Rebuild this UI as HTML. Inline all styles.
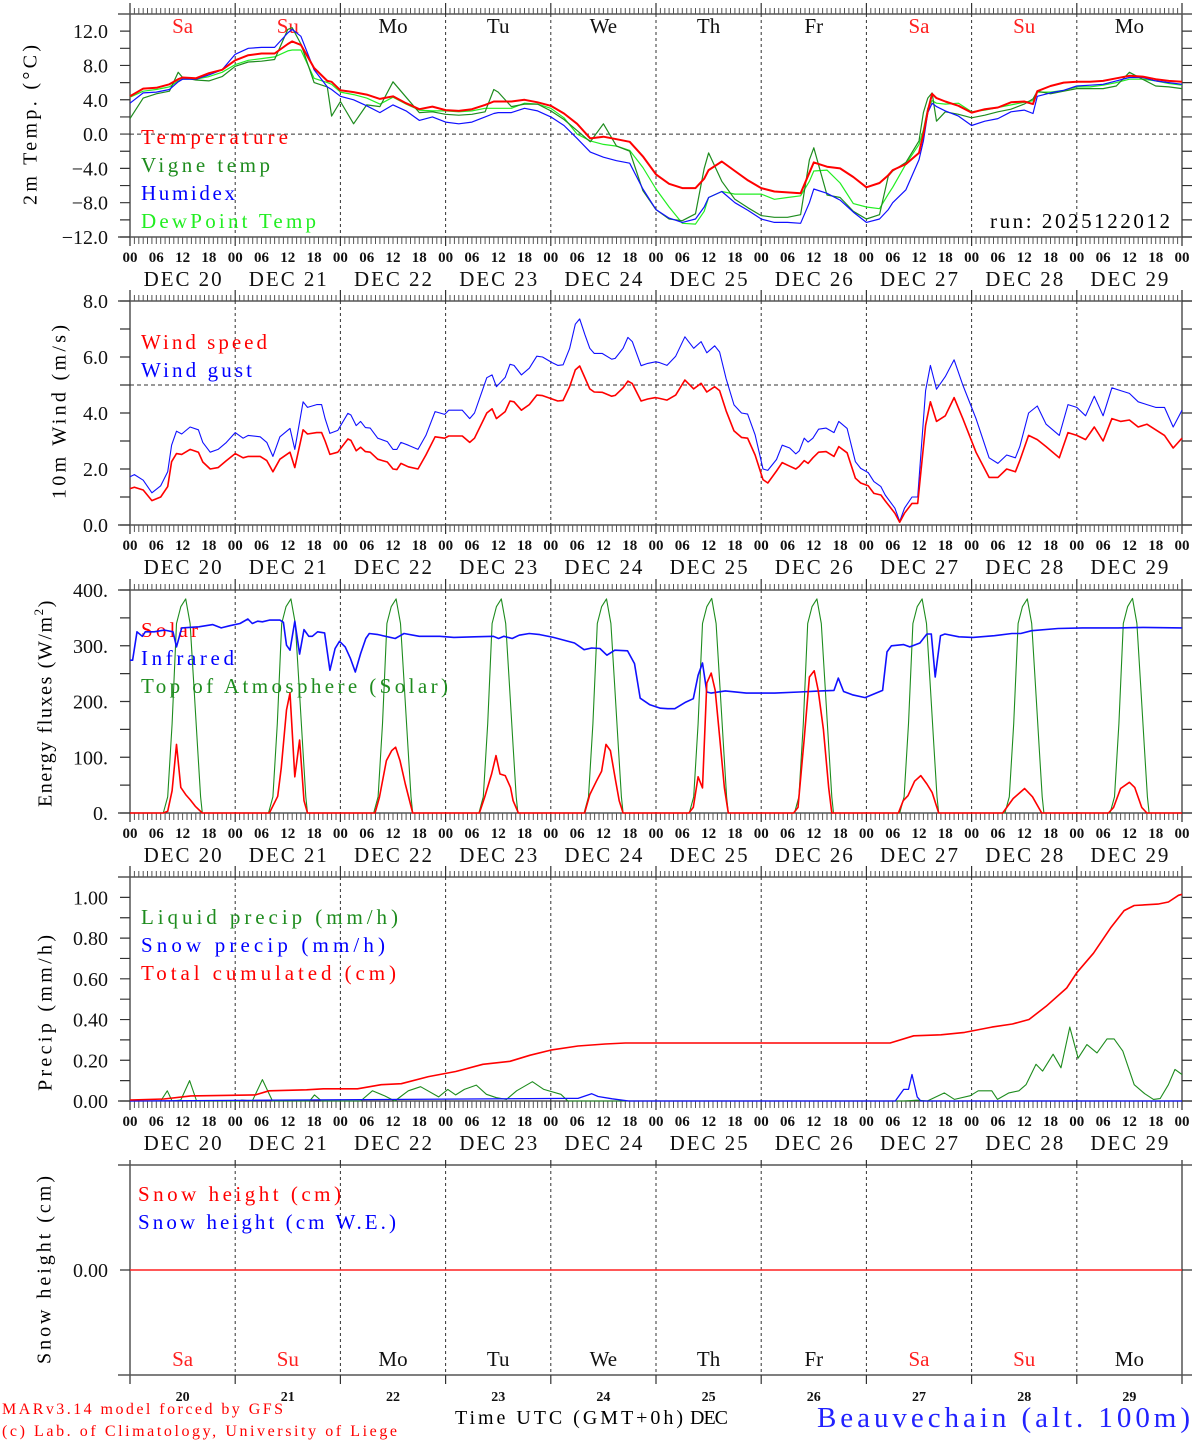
<!DOCTYPE html>
<html><head><meta charset="utf-8">
<style>
body{margin:0;background:#fff}
svg{display:block;font-family:"Liberation Serif","DejaVu Serif",serif}
</style></head>
<body>
<svg id="chart" xmlns="http://www.w3.org/2000/svg" width="1194" height="1440" viewBox="0 0 1194 1440">
<rect x="0" y="0" width="1194" height="1440" fill="#fff"/>
<g id="axes"></g>
<g id="static">
  <text x="32" y="125" transform="rotate(-90 32 125)" text-anchor="middle" dominant-baseline="middle" font-size="20" textLength="160" lengthAdjust="spacing">2m Temp. (°C)</text>
  <text x="61" y="412" transform="rotate(-90 61 412)" text-anchor="middle" dominant-baseline="middle" font-size="20" textLength="174" lengthAdjust="spacing">10m Wind (m/s)</text>
  <text x="47" y="703" transform="rotate(-90 47 703)" text-anchor="middle" dominant-baseline="middle" font-size="20" letter-spacing="1.6">Energy fluxes (W/m<tspan font-size="13" dy="-7">2</tspan><tspan dy="7">)</tspan></text>
  <text x="47" y="1013" transform="rotate(-90 47 1013)" text-anchor="middle" dominant-baseline="middle" font-size="20" textLength="156" lengthAdjust="spacing">Precip (mm/h)</text>
  <text x="46" y="1270" transform="rotate(-90 46 1270)" text-anchor="middle" dominant-baseline="middle" font-size="20" textLength="188" lengthAdjust="spacing">Snow height (cm)</text>

  <text x="141" y="144" font-size="21" fill="#ff0000" textLength="147" lengthAdjust="spacing">Temperature</text>
  <text x="141" y="172" font-size="21" fill="#1e8c1e" textLength="129" lengthAdjust="spacing">Vigne temp</text>
  <text x="141" y="200" font-size="21" fill="#0000ff" textLength="94" lengthAdjust="spacing">Humidex</text>
  <text x="141" y="228" font-size="21" fill="#22ee22" textLength="175" lengthAdjust="spacing">DewPoint Temp</text>
  <text x="990" y="228" font-size="21" fill="#000" textLength="180" lengthAdjust="spacing">run: 2025122012</text>

  <text x="141" y="349" font-size="21" fill="#ff0000" textLength="126" lengthAdjust="spacing">Wind speed</text>
  <text x="141" y="377" font-size="21" fill="#0000ff" textLength="111" lengthAdjust="spacing">Wind gust</text>

  <text x="141" y="637" font-size="21" fill="#ff0000" textLength="57" lengthAdjust="spacing">Solar</text>
  <text x="141" y="665" font-size="21" fill="#0000ff" textLength="93" lengthAdjust="spacing">Infrared</text>
  <text x="141" y="693" font-size="21" fill="#1e8c1e" textLength="307" lengthAdjust="spacing">Top of Atmosphere (Solar)</text>

  <text x="141" y="924" font-size="21" fill="#1e8c1e" textLength="257" lengthAdjust="spacing">Liquid precip (mm/h)</text>
  <text x="141" y="952" font-size="21" fill="#0000ff" textLength="244" lengthAdjust="spacing">Snow precip (mm/h)</text>
  <text x="141" y="980" font-size="21" fill="#ff0000" textLength="255" lengthAdjust="spacing">Total cumulated (cm)</text>

  <text x="138" y="1201" font-size="21" fill="#ff0000" textLength="203" lengthAdjust="spacing">Snow height (cm)</text>
  <text x="138" y="1229" font-size="21" fill="#0000ff" textLength="258" lengthAdjust="spacing">Snow height (cm W.E.)</text>

  <text x="2" y="1414" font-size="16" fill="#ff0000" textLength="281" lengthAdjust="spacing">MARv3.14 model forced by GFS</text>
  <text x="2" y="1436" font-size="16" fill="#ff0000" textLength="395" lengthAdjust="spacing">(c) Lab. of Climatology, University of Liege</text>
  <text x="455" y="1424" font-size="20" fill="#000" textLength="228" lengthAdjust="spacing">Time UTC (GMT+0h)</text>
  <text x="690" y="1424" font-size="20" fill="#000" textLength="38" lengthAdjust="spacing">DEC</text>
  <text x="817" y="1427" font-size="29" fill="#2222ff" textLength="373" lengthAdjust="spacing">Beauvechain (alt. 100m)</text>
</g>
<g id="series"></g>
</svg>
<script>
// ---------- DATA ----------
const dayNames = ["Sa","Su","Mo","Tu","We","Th","Fr","Sa","Su","Mo"];
const dayNums = ["20","21","22","23","24","25","26","27","28","29"];
const hourLabels = ["00","06","12","18"];

const tempTicks = [-12,-8,-4,0,4,8,12];
const tempTickLabels = ["\u221212.0","\u22128.0","\u22124.0","0.0","4.0","8.0","12.0"];
const windTicks = [0,2,4,6,8];
const windTickLabels = ["0.0","2.0","4.0","6.0","8.0"];
const energyTicks = [0,100,200,300,400];
const energyTickLabels = ["0.","100.","200.","300.","400."];
const precipTicks = [0,0.2,0.4,0.6,0.8,1.0];
const precipTickLabels = ["0.00","0.20","0.40","0.60","0.80","1.00"];
const snowTicks = [0];
const snowTickLabels = ["0.00"];

const tempHours = [0,3,6,9,11,12,15,18,21,24,27,30,33,36,37,39,42,45,46,48,51,54,57,60,63,66,69,72,75,78,81,83,84,87,90,93,96,99,102,105,108,111,114,117,120,123,126,129,131,132,135,138,141,144,147,150,153,155,156,159,162,165,168,171,173,174,177,180,181,182,183,184,186,189,192,195,198,201,204,206,207,210,213,216,219,222,225,228,231,234,237,240];
const temperature = [4.4,5.3,5.4,5.8,6.4,6.6,6.5,7.1,7.5,8.6,9.2,9.4,9.4,10.5,10.8,10.4,7.7,6.2,6.1,5.1,4.9,4.6,4.1,4.4,3.6,2.9,3.2,2.8,2.7,2.9,3.4,3.8,3.8,3.8,4.0,3.7,3.3,2.4,1.2,-0.5,-0.3,-0.6,-0.9,-2.6,-4.7,-5.8,-6.3,-6.3,-5.2,-4.2,-3.2,-4.3,-5.4,-6.3,-6.7,-6.8,-6.9,-4.5,-3.3,-3.8,-4.0,-5.0,-6.2,-5.7,-4.8,-4.2,-3.5,-2.2,0.0,2.7,4.7,4.2,3.8,3.3,2.5,2.9,3.1,3.7,3.8,3.5,5.0,5.6,6.0,6.1,6.1,6.2,6.5,6.8,6.7,6.4,6.2,6.1];
const humidex = [3.6,4.8,4.9,5.2,6.1,6.4,6.4,6.9,7.5,9.3,10.0,10.1,10.1,11.8,12.2,11.4,7.5,5.5,5.2,4.4,4.0,3.3,2.5,3.4,2.7,1.6,2.0,1.4,1.2,1.4,2.0,2.4,2.5,2.5,3.0,2.7,2.0,1.0,-0.5,-2.1,-2.7,-3.1,-3.4,-6.4,-8.8,-9.8,-10.3,-9.9,-8.5,-7.4,-6.7,-8.0,-8.9,-9.9,-10.3,-10.3,-10.4,-8.0,-6.4,-6.9,-7.7,-9.1,-10.3,-9.9,-8.8,-8.0,-6.5,-3.0,-0.8,2.5,3.6,3.2,2.7,2.1,1.0,1.5,1.8,2.6,2.8,2.4,4.4,4.8,5.1,5.6,5.7,5.8,6.2,6.6,6.6,6.2,6.0,5.8];
const vigneTemp = [1.8,4.2,4.7,5.0,7.2,6.6,6.3,6.2,6.7,7.9,8.4,8.5,8.7,12.2,12.4,10.5,6.0,5.5,2.1,3.8,1.2,3.4,3.2,6.1,4.3,2.5,2.6,2.3,2.2,2.3,2.6,5.2,4.9,3.2,3.5,3.5,2.7,1.7,0.4,-0.9,1.2,-1.4,-2.0,-6.6,-8.8,-9.9,-10.1,-9.3,-4.0,-2.2,-5.5,-7.6,-8.6,-9.5,-9.7,-9.7,-9.4,-3.0,-1.6,-7.1,-7.4,-9.0,-9.9,-9.4,-4.9,-4.3,-3.3,-0.8,2.5,4.2,4.8,1.5,2.6,2.3,1.9,2.2,2.6,2.9,3.5,4.1,5.0,4.7,5.0,5.3,5.3,5.3,5.6,7.2,6.4,5.6,5.5,5.3];
const dewPoint = [4.3,5.0,5.2,5.5,6.2,6.4,6.4,6.7,7.2,8.1,8.6,8.8,9.0,9.7,9.8,9.8,6.5,6.0,5.8,4.9,4.6,4.2,3.5,4.3,3.5,2.8,2.7,2.7,2.6,2.7,3.0,3.0,3.0,3.0,3.6,3.5,3.0,1.9,0.0,-0.8,-1.2,-1.4,-1.9,-3.9,-6.4,-8.5,-10.4,-10.5,-9.0,-7.4,-6.7,-7.0,-7.0,-7.0,-7.6,-7.4,-7.2,-5.5,-4.3,-4.2,-5.7,-8.1,-8.5,-8.7,-7.0,-6.2,-3.5,-1.2,0.5,3.0,3.9,3.6,3.5,3.6,2.6,2.8,3.1,3.4,3.7,3.9,4.9,4.9,5.1,5.5,5.5,5.7,6.0,6.4,6.4,6.2,5.9,5.7];

const windHours = [0,1,3,5,7,8.6,9.5,10.6,11.8,13.7,15.6,16.6,18.3,20.1,22,24,25.8,27,29.7,31.2,32.6,34.2,36.5,37.6,39.5,40.5,42.6,43.7,44.5,45.6,47.4,49.7,50.4,51.6,52.6,53.7,54.8,56.5,58.7,60,60.9,61.8,63.5,65.7,67.5,69.6,71.8,72.7,75.8,77.5,78.6,81.4,82.6,83.6,85.6,86.7,87.6,89.3,91.1,92.8,94.1,96.3,97.6,98.8,100.3,101.6,102.6,103.8,104.9,105.9,107.7,109.9,110.7,112.5,113.6,114.6,116.6,118.1,119.9,120.8,122.5,124.5,126.6,128.6,130.3,131.6,133.4,134.5,136,137.8,139.5,140.9,142.6,144.4,145.5,147.5,148.8,150.5,151.9,152.7,153.8,154.7,155.8,157.1,158.8,160.6,161.7,163.6,165.5,166.7,168.4,169.7,171.3,172.3,174.5,175.6,176.7,178.4,179.7,181.5,182.6,184,186,188,190,193,196,198,200,202,203,205,207,209,212,214,216,218,220,222,224,226,228,230,232,234,236,238,240];
const windSpeed = [1.3,1.35,1.25,0.87,1.0,1.37,2.26,2.55,2.52,2.7,2.6,2.25,2.0,2.05,2.3,2.55,2.4,2.45,2.45,2.3,1.9,2.35,2.6,2.05,3.4,3.25,3.3,3.3,3.0,2.52,2.6,3.07,3.02,2.65,2.78,2.62,2.6,2.35,2.25,2.0,1.98,2.2,2.08,2.0,2.5,3.15,3.1,3.18,3.18,2.95,3.1,4.0,4.15,3.8,4.05,4.43,4.4,4.1,4.3,4.64,4.62,4.5,4.43,4.45,4.94,5.54,5.68,5.25,4.86,4.75,4.74,4.6,4.63,4.9,5.14,5.05,4.43,4.5,4.55,4.52,4.46,4.64,5.18,4.86,5.06,4.75,4.94,4.8,4.08,3.36,3.13,3.1,2.5,1.62,1.5,1.93,2.23,2.1,2.0,2.1,2.3,2.2,2.4,2.6,2.62,2.45,2.8,2.58,1.67,1.5,1.4,1.13,1.07,0.86,0.42,0.1,0.42,0.77,0.77,3.56,4.4,3.7,3.9,4.55,3.8,2.6,1.7,1.7,2.0,1.9,2.3,3.2,3.05,2.8,2.4,3.3,3.2,3.05,3.5,3.0,3.8,3.7,3.75,3.5,3.6,3.4,3.2,2.75,3.1];
const windGust = [1.72,1.8,1.6,1.15,1.4,1.9,2.85,3.35,3.25,3.5,3.4,2.95,2.6,2.7,2.95,3.3,3.1,3.2,3.15,2.95,2.45,3.15,3.45,2.7,4.4,4.2,4.3,4.3,3.8,3.27,3.38,3.99,3.93,3.55,3.7,3.48,3.46,3.1,2.98,2.7,2.7,2.95,2.85,2.7,3.2,4.05,3.95,4.1,4.1,3.8,4.0,5.26,5.36,4.94,5.27,5.74,5.7,5.36,5.6,6.03,6.0,5.8,5.7,5.72,6.3,7.17,7.36,6.79,6.31,6.13,6.13,5.92,5.95,6.31,6.7,6.55,5.69,5.77,5.83,5.8,5.7,6.03,6.72,6.31,6.55,6.15,6.4,6.18,5.23,4.29,4.0,3.96,3.22,2.0,1.95,2.34,2.85,2.75,2.54,2.65,3.1,2.96,3.1,3.42,3.46,3.3,3.7,3.45,2.26,2.02,1.87,1.55,1.37,1.07,0.6,0.13,0.6,1.0,1.0,4.8,5.7,4.85,5.3,5.9,5.0,3.8,2.4,2.2,2.5,2.4,2.8,4.0,4.25,3.6,3.2,4.3,4.2,3.9,4.6,3.9,4.9,4.8,4.7,4.4,4.3,4.2,4.2,3.5,4.1];

const solarHours = [0,7.6,8.6,9.6,10.6,11.6,12.7,13.7,14.9,16.5,31.8,33.7,34.5,35.7,36.5,37.6,38.7,39.7,40.5,55.9,56.9,58.5,59.7,60.6,61.6,62.8,64.5,79.7,80.9,82.5,83.5,84.4,85.6,86.8,87.4,88.6,103.7,104.9,106.4,107.6,108.6,109.6,110.8,111.6,112.5,127.5,128.5,129.6,130.6,131.6,132.6,133.5,134.5,135.6,136.5,151.4,152.4,153.8,155,156.1,157,158.2,159.4,160.1,175.3,176.4,177.5,179,180.4,181.8,183,184.5,199.1,201.5,204.1,205.9,208,223.2,224.4,226,228,229.2,230.8,232,240];
const solar = [0,0,3,40,123,46,33,24,12,0,0,30,80,185,215,65,131,22,0,0,28,94,112,118,94,52,0,0,28,70,103,70,67,46,22,0,0,33,57,75,123,112,57,22,0,0,10,65,45,233,251,220,137,45,0,0,10,133,244,255,220,150,45,0,0,22,31,57,67,52,37,0,0,26,44,29,0,0,10,44,55,46,10,0,0];

const toaHours = [0,7.6,8.6,9.6,10.6,11.6,12.7,13.7,14.6,15.4,16.1,16.5,31.6,32.6,33.6,34.6,35.6,36.7,37.7,38.6,39.4,40.1,40.5,55.6,56.6,57.6,58.6,59.6,60.7,61.7,62.6,63.4,64.1,64.5,79.6,80.6,81.6,82.6,83.6,84.7,85.7,86.6,87.4,88.1,88.5,103.6,104.6,105.6,106.6,107.6,108.7,109.7,110.6,111.4,112.1,112.5,127.6,128.6,129.6,130.6,131.6,132.7,133.7,134.6,135.4,136.1,136.5,151.6,152.6,153.6,154.6,155.6,156.7,157.7,158.6,159.4,160.1,160.5,175.6,176.6,177.6,178.6,179.6,180.7,181.7,182.6,183.4,184.1,184.5,199.6,200.6,201.6,202.6,203.6,204.7,205.7,206.6,207.4,208.1,208.5,223.6,224.6,225.6,226.6,227.6,228.7,229.7,230.6,231.4,232.1,232.5,240];
const toaSolar = [0,0,29,160,340,370,384,340,225,120,29,0,0,29,160,340,370,384,340,225,120,29,0,0,29,160,340,370,384,340,225,120,29,0,0,29,160,340,370,384,340,225,120,29,0,0,29,160,340,370,384,340,225,120,29,0,0,29,160,340,370,385,340,225,120,29,0,0,29,160,340,370,384,340,225,120,29,0,0,29,160,340,370,384,340,225,120,29,0,0,29,160,340,370,384,340,225,120,29,0,0,29,160,340,370,385,340,225,120,29,0,0];

const irHours = [0,0.6,1.6,2.8,3.5,5.5,7.9,9.8,10.6,11.8,15.7,18.9,20.8,22.8,25.1,26.9,27.9,29.1,30.2,31.8,34.2,35,35.7,36.5,37.6,38.7,39.7,40.8,41.6,42.8,44.4,45.6,46.8,47.8,49.1,50.3,51.4,52.6,53.8,54.6,56.6,60.5,62.5,66,70.7,73.9,78.6,82.9,84.1,85.3,87.2,88.8,91.1,93.5,96.6,101.4,103.6,105.3,107.2,108.8,110.6,113.5,115.1,116.4,118.6,121,122.7,124.3,126.8,128.5,129.6,130.6,131.6,132.6,135.8,140.6,147.1,152.7,157.6,160.6,161.6,162.8,164.8,167.7,171.7,172.7,173.7,176.5,177.9,180.2,181.8,182.8,183.7,184.9,185.9,189.1,192.3,197.2,201.2,203.2,205.7,211.7,217.3,225.4,231.1,240];
const infrared = [274,274,325,317,325,325,328,325,298,332,334,338,332,336,340,348,340,344,343,346,346,342,301,292,344,285,329,317,317,325,323,256,295,308,298,277,253,286,313,322,320,313,322,317,317,315,316,317,313,317,313,319,322,320,315,305,293,296,295,283,292,291,268,206,194,188,187,187,199,205,247,269,217,215,219,215,215,217,219,220,242,218,212,207,220,289,300,302,298,305,321,321,244,318,321,316,315,318,322,322,327,331,332,332,333,332];

const cumHours = [0,7.7,13.9,28.6,31.7,40.3,44.1,51.9,57.3,61.9,68.1,74.3,80.5,86.7,91.3,96,102.2,108.4,113,173.4,178.8,185,190.4,196.6,201.3,205.1,209,213.7,216,219.8,223.7,226.8,229.1,234.5,236.9,239.2,240];
const totalCumulated = [0.005,0.01,0.025,0.03,0.05,0.055,0.06,0.06,0.08,0.085,0.12,0.145,0.18,0.195,0.225,0.25,0.27,0.28,0.285,0.285,0.32,0.325,0.337,0.363,0.378,0.4,0.465,0.555,0.63,0.726,0.85,0.935,0.96,0.967,0.977,1.01,1.015];
const liqHours = [0,7,8.5,9.6,11.6,13.6,15.2,24.8,25.5,27.9,30.2,32.5,41,42.1,43.7,52.6,55.3,58.1,60.4,63.5,66.3,70.4,72.5,74.3,76.3,79,81.3,83.6,85.9,88.2,91.8,94.4,98.3,99.9,176.5,179.6,181.9,185.8,188.1,191.7,193.5,196.6,197.9,200.5,202.8,204.4,206.7,208.2,210.6,212.4,214.4,216.3,218.3,220.6,222.9,224.5,226.5,229.1,231.5,233.5,235,236.9,238.4,240];
const liquidPrecip = [0,0,0.05,0,0.005,0.1,0,0,0.005,0,0.105,0,0,0.03,0,0,0.05,0.025,0,0.05,0.07,0.02,0.057,0.03,0.057,0.078,0.033,0.016,0.008,0.05,0.095,0.057,0.033,0,0,0.004,0,0.04,0.008,0.026,0.05,0.05,0.008,0.04,0.05,0.08,0.18,0.147,0.23,0.163,0.363,0.21,0.277,0.236,0.305,0.305,0.245,0.08,0.036,0.008,0.012,0.08,0.155,0.13];
const snowHours = [0,99.9,102.2,105.3,106.8,110,113.8,174.6,176.5,177.6,178.4,179.6,180.4,240];
const snowPrecip = [0,0.013,0.013,0.036,0.022,0.011,0,0,0.057,0.057,0.13,0.02,0,0];
const snowHeightHours = [0,240];
const snowHeight = [0,0];

// ---------- LAYOUT ----------
const NS = "http://www.w3.org/2000/svg";
const X0 = 130, X1 = 1182, HOURS = 240;
function xOf(h){ return X0 + h*(X1-X0)/HOURS; }
const P = {
  temp:   {top:14,  bottom:237,  min:-12, max:14,  minor:[-10,-6,-2,2,6,10], ticks:tempTicks, labels:tempTickLabels, hourTicks:true, dayRow:'top'},
  wind:   {top:301, bottom:525,  min:0,   max:8,   minor:[1,3,5,7], ticks:windTicks, labels:windTickLabels, hourTicks:true},
  energy: {top:590, bottom:813,  min:0,   max:400, minor:[50,150,250,350], ticks:energyTicks, labels:energyTickLabels, hourTicks:true},
  precip: {top:877, bottom:1101, min:0,   max:1.1, minor:[0.1,0.3,0.5,0.7,0.9], ticks:precipTicks, labels:precipTickLabels, hourTicks:true},
  snow:   {top:1165,bottom:1375, min:-1,  max:1,   minor:[], ticks:snowTicks, labels:snowTickLabels, hourTicks:false}
};
function yOf(p, v){ return p.bottom - (v-p.min)/(p.max-p.min)*(p.bottom-p.top); }
function set(e, o){ for(const k in o) e.setAttribute(k, o[k]); return e; }
function mk(tag, parent){ const e = document.createElementNS(NS, tag); parent.appendChild(e); return e; }
const axes = document.getElementById('axes');
const series = document.getElementById('series');
const AX = '#333';

function drawPanel(key, p){
  const g = mk('g', axes);
  
  
  const ext = key==='snow' ? 5 : 11;
  // top/bottom lines
  const tl = mk('line', g); set(tl,{x1:118,x2:1192,y1:p.top,y2:p.top,stroke:AX,'stroke-width':1.3});
  
  
  const bl = mk('line', g); set(bl,{x1:118,x2:1192,y1:p.bottom,y2:p.bottom,stroke:AX,'stroke-width':1.3});
  
  
  const la = mk('line', g); set(la,{x1:X0,x2:X0,y1:p.top-ext,y2:p.bottom+9,stroke:'#555','stroke-width':1.5});
  
  
  const ra = mk('line', g); set(ra,{x1:X1,x2:X1,y1:p.top-ext,y2:p.bottom+9,stroke:'#555','stroke-width':1.5});
  
  
  // hour ticks
  if(p.hourTicks){
    let d = '';
    for(let h=1; h<HOURS; h++){
      if(h%24===0) continue;
      const x = xOf(h).toFixed(1);
      d += 'M'+x+' '+p.top+'v-6M'+x+' '+p.bottom+'v7';
    }
    const ht = mk('path', g); set(ht,{d:d,stroke:'#555','stroke-width':1,fill:'none'});
    
    
  }
  // day boundaries
  for(let dd=1; dd<10; dd++){
    const x = xOf(dd*24);
    const dl = mk('line', g); set(dl,{x1:x,x2:x,y1:p.top,y2:p.bottom,stroke:'#333','stroke-width':1,'stroke-dasharray':'3,3'});
    
    
    const dt = mk('path', g); set(dt,{d:'M'+x+' '+(p.top-ext)+'V'+p.top+'M'+x+' '+p.bottom+'v9',stroke:'#333','stroke-width':1.2});
    
    
  }
  // y ticks
  const allT = p.ticks.concat(p.minor);
  for(const v of allT){
    const y = yOf(p, v);
    const t = mk('path', g); set(t,{d:'M120 '+y+'H'+X0+'M'+X1+' '+y+'H1192',stroke:AX,'stroke-width':1.2});
    
    
  }
  p.ticks.forEach((v,i)=>{
    const t = mk('text', g); set(t,{x:108,y:yOf(p,v)+7,'text-anchor':'end','font-size':20,fill:'#111'});
    t.textContent = p.labels[i];
    
    
  });
  // x labels
  if(key!=='snow'){
    for(let dd=0; dd<=10; dd++){
      for(let k=0;k<4;k++){
        if(dd===10 && k>0) break;
        const t = mk('text', g); set(t,{x:xOf(dd*24+k*6),y:p.bottom+25,'text-anchor':'middle','font-size':15,'font-weight':'bold',fill:'#111'});
        t.textContent = hourLabels[k];
        
        
      }
      if(dd<10){
        const t = mk('text', g); set(t,{x:xOf(dd*24+12),y:p.bottom+49,'text-anchor':'middle','font-size':21,fill:'#111',textLength:78,lengthAdjust:'spacing'});
        t.textContent = 'DEC ' + dayNums[dd];
        
        
      }
    }
  } else {
    for(let dd=0; dd<10; dd++){
      const t = mk('text', g); set(t,{x:xOf(dd*24+12),y:1401,'text-anchor':'middle','font-size':14,'font-weight':'bold',fill:'#111'});
      t.textContent = dayNums[dd];
      
      
    }
  }
  const dayY = key==='temp' ? 33 : (key==='snow' ? 1366 : null);
  if(dayY){
    for(let dd=0; dd<10; dd++){
      const t = mk('text', g); set(t,{x:xOf(dd*24+12),y:dayY,'text-anchor':'middle','font-size':21,fill:(dayNames[dd]==='Sa'||dayNames[dd]==='Su')?'#ff2020':'#111'});
      t.textContent = dayNames[dd];
      
      
    }
  }
}
for(const k in P) drawPanel(k, P[k]);

function refLine(p, v, name){
  const l = mk('line', axes); set(l,{x1:X0,x2:X1,y1:yOf(p,v),y2:yOf(p,v),stroke:'#333','stroke-width':1,'stroke-dasharray':'4,3'});
  
  
}
refLine(P.temp, 0, 'temp-zero-line');
refLine(P.wind, 5, 'wind-5ms-line');

function drawSeries(p, hours, vals, color, w, name){
  const n = Math.min(hours.length, vals.length);
  const pts = [];
  for(let i=0;i<n;i++) pts.push(xOf(hours[i]).toFixed(1)+','+yOf(p, vals[i]).toFixed(1));
  const pl = mk('polyline', series);
  set(pl,{points:pts.join(' '),fill:'none',stroke:color,'stroke-width':w,'stroke-linejoin':'round'});
  
  
}
drawSeries(P.temp, tempHours, dewPoint, '#22ee22', 1.2, 'dewpoint-line');
drawSeries(P.temp, tempHours, vigneTemp, '#1e8c1e', 1.2, 'vigne-temp-line');
drawSeries(P.temp, tempHours, humidex, '#1010ff', 1.2, 'humidex-line');
drawSeries(P.temp, tempHours, temperature, '#ff0000', 2, 'temperature-line');
drawSeries(P.wind, windHours, windGust, '#1010ff', 1.1, 'wind-gust-line');
drawSeries(P.wind, windHours, windSpeed, '#ff0000', 1.6, 'wind-speed-line');
drawSeries(P.energy, toaHours, toaSolar, '#1e8c1e', 1.1, 'toa-solar-line');
drawSeries(P.energy, irHours, infrared, '#1010ff', 1.6, 'infrared-line');
drawSeries(P.energy, solarHours, solar, '#ff0000', 1.6, 'solar-line');
drawSeries(P.precip, liqHours, liquidPrecip, '#1e8c1e', 1.1, 'liquid-precip-line');
drawSeries(P.precip, snowHours, snowPrecip, '#1010ff', 1.3, 'snow-precip-line');
drawSeries(P.precip, cumHours, totalCumulated, '#ff0000', 1.6, 'total-cumulated-line');
drawSeries(P.snow, snowHeightHours, snowHeight, '#ff2020', 1.6, 'snow-height-line');
</script>
</body></html>
